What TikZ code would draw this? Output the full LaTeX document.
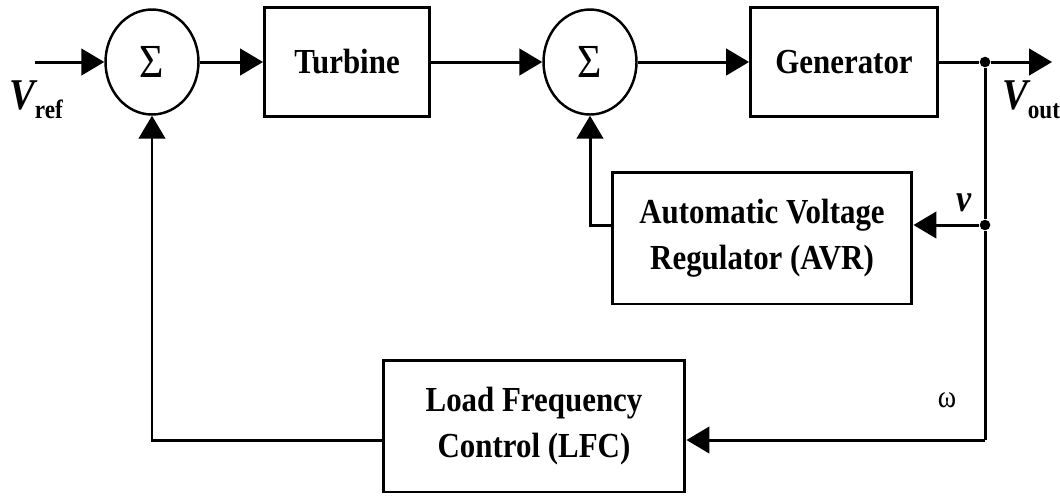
\documentclass[tikz,border=0pt]{standalone}
\usepackage{fontspec}
\setmainfont[FakeStretch=0.88]{Liberation Serif}
\usetikzlibrary{arrows.meta, positioning, shapes.geometric}

\begin{document}
\begin{tikzpicture}[
  x=0.02cm, y=-0.02cm,
  font=\fontsize{20}{23}\selectfont\bfseries,
  block/.style={
    draw, line width=1.7pt,
    minimum width=3.3cm, minimum height=2.18cm,
    align=center
  },
  sumnode/.style={
    draw, ellipse, line width=1.4pt, inner sep=0pt,
    minimum width=1.86cm, minimum height=2.1cm,
    font=\fontsize{27}{27}\selectfont\mdseries
  },
  arr/.style={-{Triangle[length=13pt, width=15pt]}, line width=1.7pt},
  wire/.style={line width=1.7pt},
  dot/.style={circle, fill, inner sep=0pt, minimum size=6pt},
  lbl/.style={inner sep=0pt},
]
\useasboundingbox (0,0) rectangle (1060,495);

%% Forward path
\coordinate (vin) at (35,62);
\node[sumnode] (sum1) at (152,62) {Σ};
\node[block] (turbine) at (347,62) {Turbine};
\node[sumnode] (sum2) at (590,62) {Σ};
\node[block, minimum width=3.74cm] (gen) at (844,62) {Generator};
\node[dot] (jout) at (985,62) {};
\coordinate (vout) at (1052,62);

%% Feedback blocks
\node[block, minimum width=6.0cm, minimum height=2.64cm] (avr)
    at (762,238) {Automatic Voltage\\[3pt]Regulator (AVR)};
\node[dot] (javr) at (985,225) {};
\node[block, minimum width=6.04cm, minimum height=2.64cm] (lfc)
    at (534,426) {Load Frequency\\[3pt]Control (LFC)};
\coordinate (corner) at (985,440);

%% Labels
\node[lbl] (vref) at (36,100)
    {\fontsize{25}{25}\selectfont\itshape V\raisebox{-5pt}{\upshape\fontsize{15}{15}\selectfont ref}};
\node[lbl] (voutlbl) at (1031,100)
    {\fontsize{25}{25}\selectfont\itshape V\raisebox{-5pt}{\upshape\fontsize{15}{15}\selectfont out}};
\node[lbl] (vlbl) at (964,203) {\fontsize{22}{22}\selectfont\itshape v};
\node[lbl] (wlbl) at (947,400) {\fontsize{18}{18}\selectfont\mdseries ω};

%% Forward arrows
\draw[arr] (vin) -- (sum1);
\draw[arr] (sum1) -- (turbine);
\draw[arr] (turbine) -- (sum2);
\draw[arr] (sum2) -- (gen);
\draw[wire] (gen) -- (jout);
\draw[arr] (jout) -- (vout);

%% Feedback arrows
\draw[wire] (jout) -- (javr) -- (corner);
\draw[arr] (javr) -- (javr -| avr.east);
\draw[arr] (avr.west |- javr) -| (sum2.south);
\draw[arr] (corner) -- (corner -| lfc.east);
\draw[arr] (lfc.west |- corner) -| (sum1.south);
\end{tikzpicture}
\end{document}
